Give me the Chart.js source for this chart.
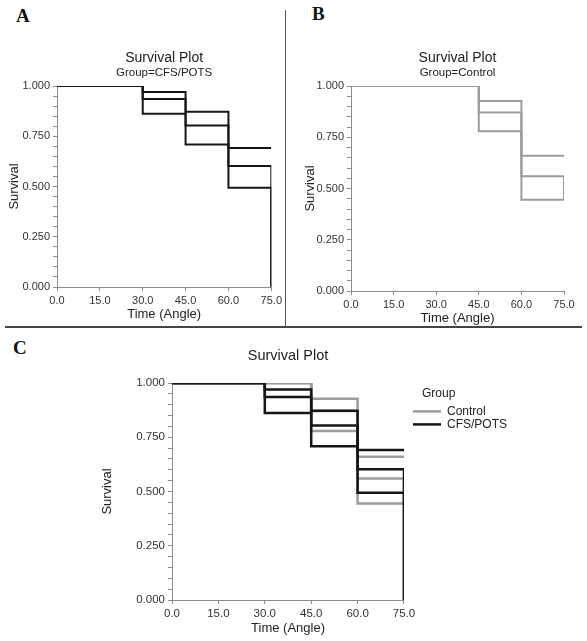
<!DOCTYPE html>
<html>
<head>
<meta charset="utf-8">
<script src="https://cdn.jsdelivr.net/npm/chart.js@4.4.1/dist/chart.umd.min.js"></script>
<style>
  html, body { margin: 0; padding: 0; background: #fff; }
  body { width: 587px; height: 641px; position: relative; overflow: hidden; }
  canvas { position: absolute; }
  .letter { position: absolute; font-family: "Liberation Serif", "Times New Roman", serif; font-weight: bold; font-size: 19px; line-height: 1; color: #111; }
  .vsep { position: absolute; left: 285px; top: 10px; width: 1px; height: 317px; background: #555; }
  .hsep { position: absolute; left: 5px; top: 326px; width: 577px; height: 1.5px; background: #444; }
</style>
</head>
<body>
<div class="letter" style="left:16px;top:6px">A</div>
<div class="letter" style="left:312px;top:4px">B</div>
<div class="letter" style="left:13px;top:338px">C</div>
<div class="vsep"></div>
<div class="hsep"></div>
<canvas id="chartA" width="285" height="325" style="left:0;top:0"></canvas>
<canvas id="chartB" width="297" height="327" style="left:290px;top:0"></canvas>
<canvas id="chartC" width="587" height="311" style="left:0;top:330px"></canvas>
<script>
// Kaplan-Meier estimates with confidence limits
const timeCfs = [0, 30, 45, 60, 75];
const cfsSurvival = [1.000, 0.935, 0.804, 0.602, 0.000];
const cfsUpper = [1.000, 0.970, 0.872, 0.691, 0.691];
const cfsLower = [1.000, 0.862, 0.709, 0.494, 0.000];

const timeControl = [0, 45, 60, 75];
const controlSurvival = [1.000, 0.871, 0.560, 0.445];
const controlUpper = [1.000, 0.927, 0.660, 0.660];
const controlLower = [1.000, 0.779, 0.445, 0.445];

const timeTicks = [0, 15, 30, 45, 60, 75];
const survivalTicks = [0, 0.25, 0.5, 0.75, 1];

const BLACK = "#161616";
const GREY = "#9c9c9c";
const AXIS = "#8c8c8c";
const TEXT = "#333";

Chart.defaults.font.family = '"Liberation Sans", Arial, sans-serif';

const pts = (xs, ys) => xs.map((x, i) => ({ x: x, y: ys[i] }));

function stepLine(label, xs, ys, color, width) {
  return {
    label: label,
    data: pts(xs, ys),
    borderColor: color,
    backgroundColor: color,
    borderWidth: width,
    stepped: true,
    pointRadius: 0,
    fill: false
  };
}

function axes(o) {
  return {
    x: {
      type: "linear", min: 0, max: 75,
      ticks: {
        stepSize: 15, autoSkip: false, maxRotation: 0, padding: 3, color: TEXT,
        font: { size: o.tick },
        callback: v => timeTicks.includes(v) ? v.toFixed(1) : ""
      },
      grid: { drawOnChartArea: false, drawTicks: true, tickLength: 4, color: AXIS },
      border: { color: AXIS, width: 1 },
      title: { display: true, text: "Time (Angle)", color: "#222", font: { size: 13 }, padding: { top: 0, bottom: 0 } },
      afterFit: s => { s.height = o.xh; }
    },
    y: {
      type: "linear", min: 0, max: 1,
      ticks: {
        stepSize: 0.05, autoSkip: false, padding: 3, color: TEXT,
        font: { size: o.tick },
        callback: v => survivalTicks.some(t => Math.abs(t - v) < 1e-6) ? v.toFixed(3) : ""
      },
      grid: { drawOnChartArea: false, drawTicks: true, tickLength: 4, color: AXIS },
      border: { color: AXIS, width: 1 },
      title: { display: true, text: "Survival", color: "#222", font: { size: 13 }, padding: { top: o.ytp || 7, bottom: 0 } },
      afterFit: s => { s.width = o.yw; }
    }
  };
}

function titles(sub, size) {
  const t = {
    legend: { display: false },
    tooltip: { enabled: false },
    title: {
      display: true, text: "Survival Plot", color: "#222", fullSize: false,
      font: { size: size, weight: "normal" }, padding: { top: 0, bottom: sub ? 0 : 18 }
    }
  };
  if (sub) {
    t.subtitle = {
      display: true, text: sub, color: "#222", fullSize: false,
      font: { size: 11.5 }, padding: { top: 0, bottom: 5.8 }
    };
  }
  return t;
}

// A: CFS/POTS
new Chart(document.getElementById("chartA"), {
  type: "line",
  data: {
    datasets: [
      stepLine("Upper", timeCfs, cfsUpper, BLACK, 2),
      stepLine("CFS/POTS", timeCfs, cfsSurvival, BLACK, 2),
      stepLine("Lower", timeCfs, cfsLower, BLACK, 2)
    ]
  },
  options: {
    responsive: false, animation: false,
    layout: { padding: { left: 0, right: 11, top: 49.6, bottom: 3 } },
    plugins: titles("Group=CFS/POTS", 14),
    scales: axes({ yw: 57, xh: 35, tick: 11 })
  }
});

// B: Control
new Chart(document.getElementById("chartB"), {
  type: "line",
  data: {
    datasets: [
      stepLine("Upper", timeControl, controlUpper, GREY, 2),
      stepLine("Control", timeControl, controlSurvival, GREY, 2),
      stepLine("Lower", timeControl, controlLower, GREY, 2)
    ]
  },
  options: {
    responsive: false, animation: false,
    layout: { padding: { left: 6, right: 23, top: 49.6, bottom: 1 } },
    plugins: titles("Group=Control", 14),
    scales: axes({ yw: 55, xh: 35, tick: 11 })
  }
});

// C: both groups
const scalesC = axes({ yw: 79, xh: 36, tick: 11.5 });
scalesC.gap = {
  type: "linear", position: "right", display: true,
  grid: { display: false }, border: { display: false }, ticks: { display: false },
  afterFit: s => { s.width = 8; }
};
const pluginsC = titles(null, 14.5);
pluginsC.legend = {
  display: true, position: "right", align: "start", fullSize: false, maxWidth: 140,
  title: { display: true, text: "   Group", color: "#222", font: { size: 12 }, padding: { top: 5, bottom: 2 }, position: "start" },
  labels: {
    usePointStyle: true, pointStyle: "line", pointStyleWidth: 28, padding: 1,
    color: "#222", font: { size: 12 },
    filter: item => item.text === "Control" || item.text === "CFS/POTS",
    sort: (a, b) => b.datasetIndex - a.datasetIndex
  }
};

new Chart(document.getElementById("chartC"), {
  type: "line",
  data: {
    datasets: [
      stepLine("Upper CFS", timeCfs, cfsUpper, BLACK, 2.5),
      stepLine("CFS/POTS", timeCfs, cfsSurvival, BLACK, 2.5),
      stepLine("Lower CFS", timeCfs, cfsLower, BLACK, 2.5),
      stepLine("Upper Control", timeControl, controlUpper, GREY, 2.5),
      stepLine("Control", timeControl, controlSurvival, GREY, 2.5),
      stepLine("Lower Control", timeControl, controlLower, GREY, 2.5)
    ]
  },
  options: {
    responsive: false, animation: false,
    layout: { padding: { left: 93, right: 70, top: 17.6, bottom: 5 } },
    plugins: pluginsC,
    scales: scalesC
  }
});
</script>
</body>
</html>
